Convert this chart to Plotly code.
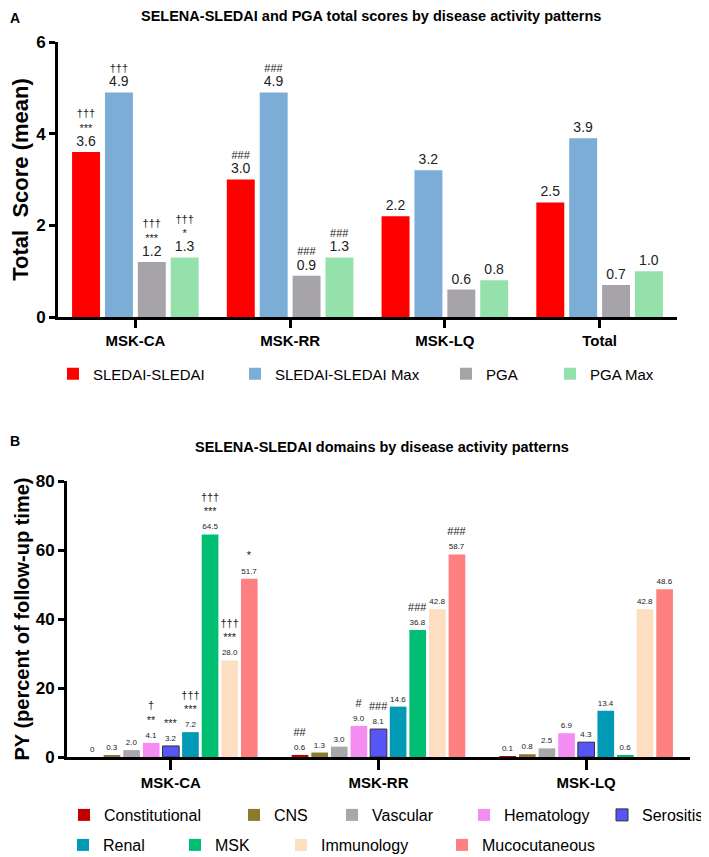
import plotly.graph_objects as go
from plotly.subplots import make_subplots

# ---- Panel A data ----
groups_a = ['MSK-CA', 'MSK-RR', 'MSK-LQ', 'Total']
sledai = [3.6, 3.0, 2.2, 2.5]
sledai_max = [4.9, 4.9, 3.2, 3.9]
pga = [1.2, 0.9, 0.6, 0.7]
pga_max = [1.3, 1.3, 0.8, 1.0]
sig_sledai = ['†††<br>***', '###', '', '']
sig_sledai_max = ['†††', '###', '', '']
sig_pga = ['†††<br>***', '###', '', '']
sig_pga_max = ['†††<br>*', '###', '', '']

# ---- Panel B data ----
groups_b = ['MSK-CA', 'MSK-RR', 'MSK-LQ']
constitutional = [0, 0.6, 0.1]
cns = [0.3, 1.3, 0.8]
vascular = [2.0, 3.0, 2.5]
hematology = [4.1, 9.0, 6.9]
serositis = [3.2, 8.1, 4.3]
renal = [7.2, 14.6, 13.4]
msk = [64.5, 36.8, 0.6]
immunology = [28.0, 42.8, 42.8]
mucocutaneous = [51.7, 58.7, 48.6]
sig_constitutional = ['', '##', '']
sig_cns = ['', '', '']
sig_vascular = ['', '', '']
sig_hematology = ['†<br>**', '#', '']
sig_serositis = ['***', '###', '']
sig_renal = ['†††<br>***', '', '']
sig_msk = ['†††<br>***', '###', '']
sig_immunology = ['†††<br>***', '', '']
sig_mucocutaneous = ['*', '###', '']

# the page puts the figure 8px in from the top-left corner
OFF = 8
W, H = 709 - OFF, 857 - OFF


def px_x(x):
    return (x - OFF) / W


def px_y(y):
    return 1 - (y - OFF) / H


def bar_text(values, marks, value_size):
    out = []
    for v, m in zip(values, marks):
        num = '0' if v == 0 else f'{v:.1f}'
        label = f"<span style='font-size:{value_size}px'>{num}</span>"
        out.append(f'{m}<br>{label}' if m else label)
    return out


fig = make_subplots(rows=2, cols=1)

series_a = [
    ('SLEDAI-SLEDAI', sledai, sig_sledai, '#FF0000'),
    ('SLEDAI-SLEDAI Max', sledai_max, sig_sledai_max, '#7BADD6'),
    ('PGA', pga, sig_pga, '#A6A4A9'),
    ('PGA Max', pga_max, sig_pga_max, '#95E1AB'),
]
series_b = [
    ('Constitutional', constitutional, sig_constitutional, '#C00000'),
    ('CNS', cns, sig_cns, '#8C7A2D'),
    ('Vascular', vascular, sig_vascular, '#A8A7AB'),
    ('Hematology', hematology, sig_hematology, '#F58CF2'),
    ('Serositis', serositis, sig_serositis, '#5656F6'),
    ('Renal', renal, sig_renal, '#0099B6'),
    ('MSK', msk, sig_msk, '#00BF73'),
    ('Immunology', immunology, sig_immunology, '#FDDEC0'),
    ('Mucocutaneous', mucocutaneous, sig_mucocutaneous, '#FF8080'),
]

# one legend per entry so the spacing follows the original figure (label start x, row y in px)
legend_spots = [(94, 374), (276, 374), (487, 374), (591, 374),
                (105, 815), (275, 815), (373, 815), (505, 815), (643, 815),
                (104, 845), (216, 845), (322, 845), (483, 845)]


def legend_key(i):
    return 'legend' if i == 1 else f'legend{i}'


k = 0
for name, vals, sig, color in series_a:
    k += 1
    fig.add_trace(go.Bar(x=groups_a, y=vals, name=name, marker=dict(color=color, line_width=0),
                         text=bar_text(vals, sig, 14), textposition='outside', textangle=0,
                         constraintext='none', cliponaxis=False, showlegend=True,
                         textfont=dict(size=11, color='#222'), legend=legend_key(k)),
                  row=1, col=1)

for name, vals, sig, color in series_b:
    k += 1
    outline = dict(color='#333', width=1) if name == 'Serositis' else dict(width=0)
    fig.add_trace(go.Bar(x=groups_b, y=vals, name=name, marker=dict(color=color, line=outline),
                         text=bar_text(vals, sig, 8), textposition='outside', textangle=0,
                         constraintext='none', cliponaxis=False, showlegend=True,
                         textfont=dict(size=11, color='#222'), legend=legend_key(k)),
                  row=2, col=1)

axis_common = dict(showline=True, linecolor='black', linewidth=3, ticks='outside',
                   tickwidth=3, tickcolor='black', showgrid=False, zeroline=False,
                   tickprefix='<b>', ticksuffix='</b>')

fig.update_xaxes(**axis_common, ticklen=8, tickfont=dict(size=15, color='black'))
fig.update_yaxes(**axis_common, ticklen=6, tickfont=dict(size=17, color='black'))

legends = {}
for i, (lx, ly) in enumerate(legend_spots, start=1):
    legends[legend_key(i)] = dict(orientation='h', x=px_x(lx - 41), xanchor='left',
                                  y=px_y(ly), yanchor='middle', visible=True,
                                  font=dict(size=15 if i <= 4 else 16), bgcolor='rgba(0,0,0,0)')

fig.update_layout(
    width=W, height=H,
    margin=dict(l=0, r=0, t=0, b=0, autoexpand=False),
    plot_bgcolor='white', paper_bgcolor='white',
    font=dict(family='Arial', color='black'),
    showlegend=True,
    barmode='group', bargap=0.15, bargroupgap=0.15,
    xaxis=dict(domain=[px_x(58), px_x(677)]),
    yaxis=dict(domain=[px_y(317), px_y(42)], range=[0, 6], dtick=2,
               title=dict(text='<b>Total  Score (mean)</b>', font=dict(size=22), standoff=4)),
    xaxis2=dict(domain=[px_x(67), px_x(690)], ticklen=10),
    yaxis2=dict(domain=[px_y(757), px_y(481)], range=[0, 80], dtick=20,
                title=dict(text='<b>PY (percent of follow-up time)</b>', font=dict(size=20), standoff=1)),
    annotations=[
        dict(text='<b>SELENA-SLEDAI and PGA total scores by disease activity patterns</b>',
             x=px_x(371), y=px_y(16), xref='paper', yref='paper', showarrow=False,
             xanchor='center', yanchor='middle', font=dict(size=14.5)),
        dict(text='<b>SELENA-SLEDAI domains by disease activity patterns</b>',
             x=px_x(382), y=px_y(447), xref='paper', yref='paper', showarrow=False,
             xanchor='center', yanchor='middle', font=dict(size=14.5)),
        dict(text='<b>A</b>', x=0, y=1, xref='paper', yref='paper', showarrow=False,
             xanchor='left', yanchor='top', font=dict(size=14)),
        dict(text='<b>B</b>', x=0, y=px_y(441), xref='paper', yref='paper', showarrow=False,
             xanchor='left', yanchor='middle', font=dict(size=14)),
    ],
    **legends,
)

fig.write_html('out.html')
